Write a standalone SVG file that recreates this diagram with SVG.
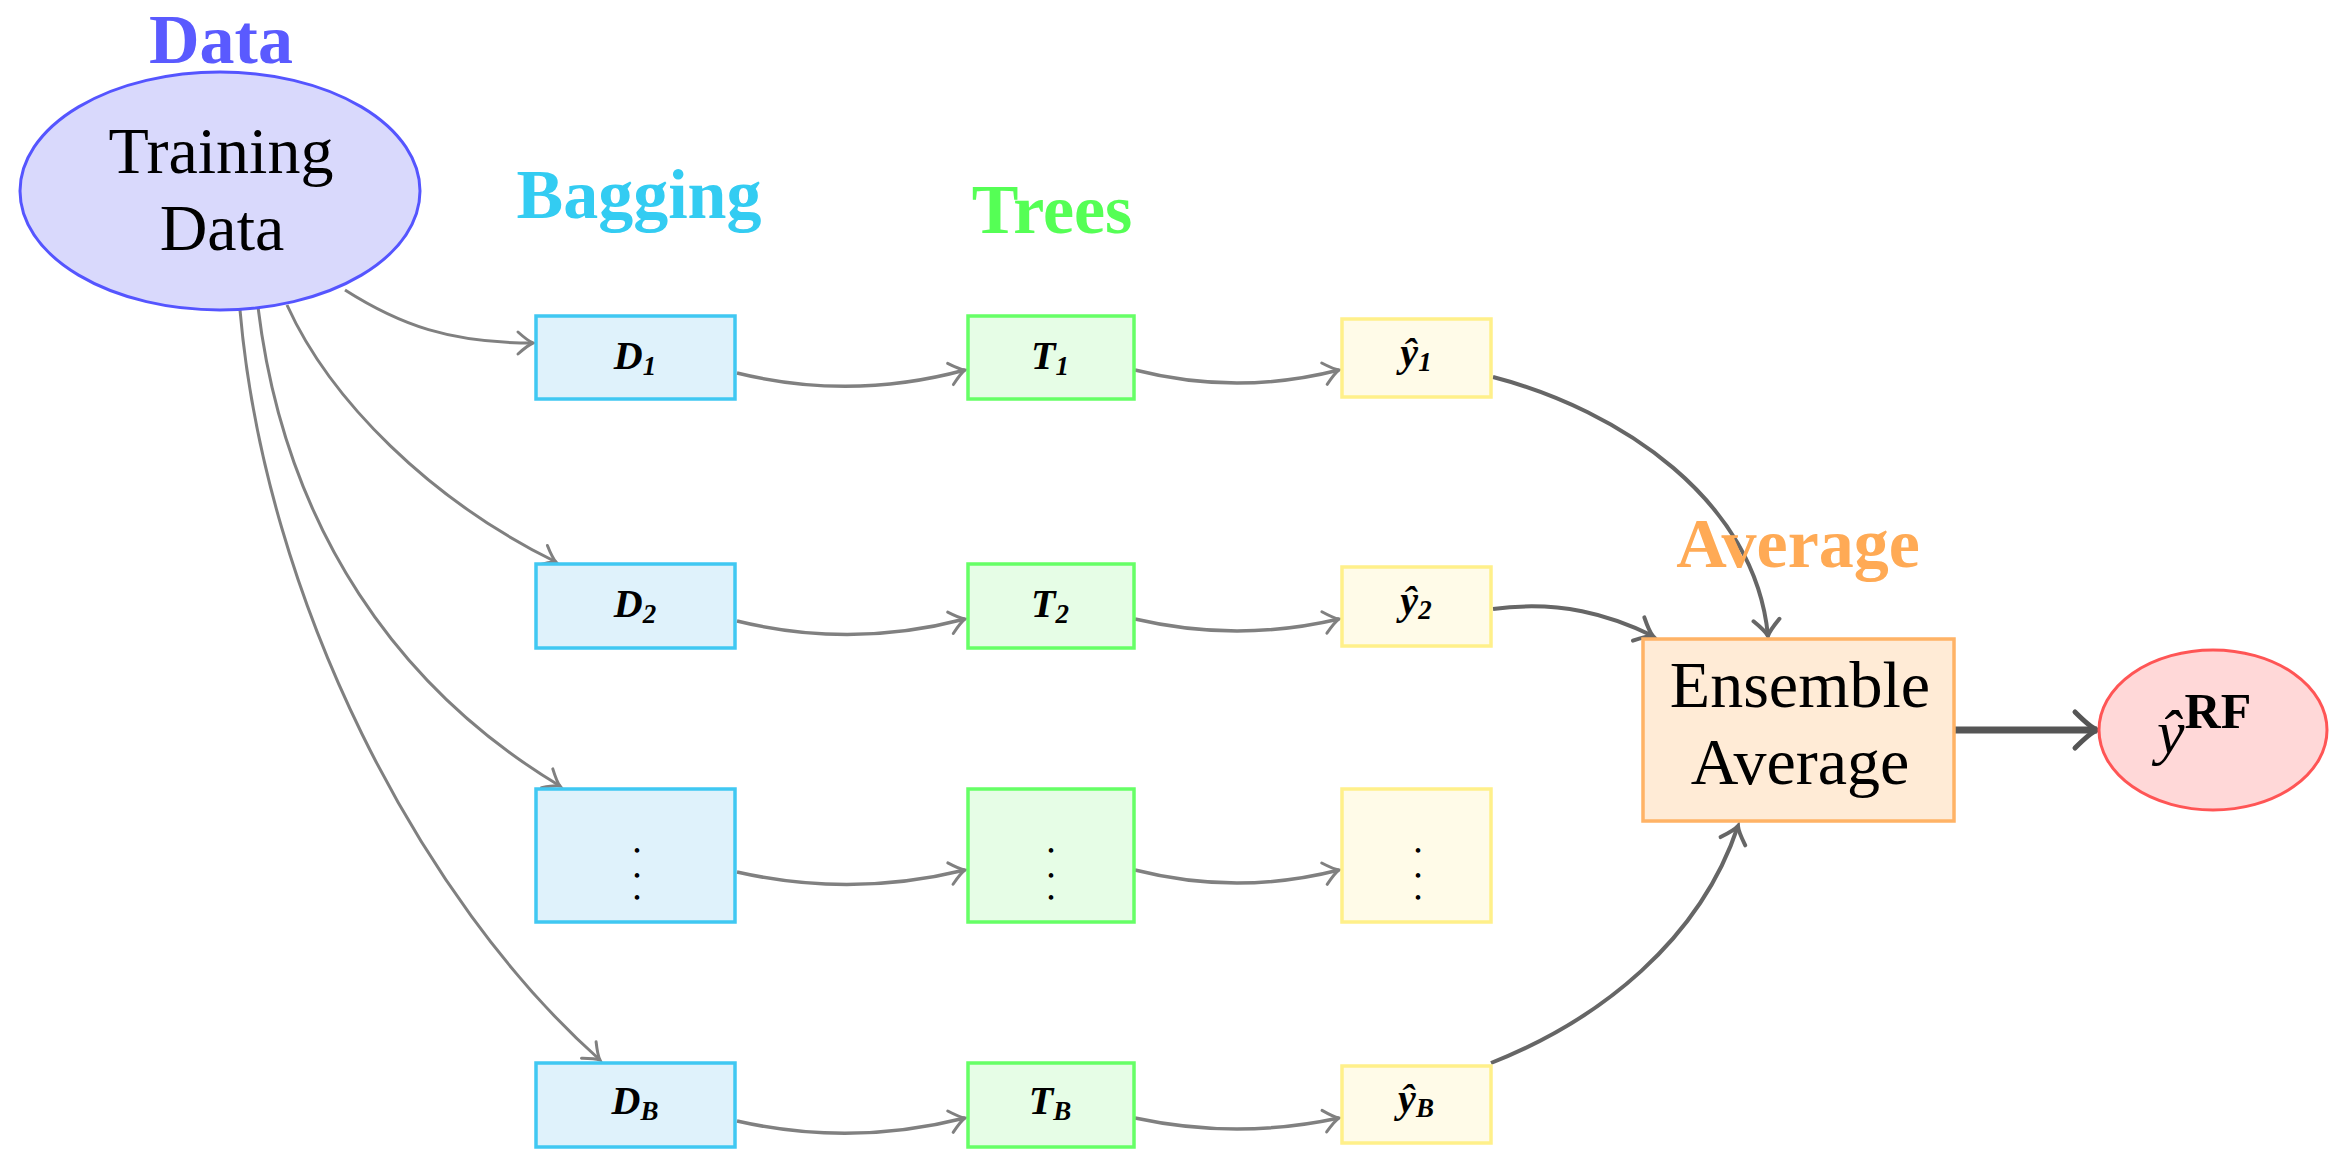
<svg xmlns="http://www.w3.org/2000/svg" width="2349" height="1174" viewBox="0 0 2349 1174">
<defs>
<style>
text{font-family:"Liberation Serif","Times New Roman",serif;fill:#000}
.title{font-size:70px;font-weight:bold;text-anchor:middle}
.body{font-size:66px;text-anchor:middle}
.lbl{font-size:40px;font-weight:bold;font-style:italic;text-anchor:middle}
.sub{font-size:27px}
.dots{font-size:18px;font-weight:bold;text-anchor:middle;stroke:#000;stroke-width:1.6}
.bag{fill:#dff2fb;stroke:#40c8f2;stroke-width:3.5}
.tree{fill:#e6fde6;stroke:#66ff66;stroke-width:3.5}
.pred{fill:#fffbe8;stroke:#fff08a;stroke-width:3.5}
.e1{fill:none;stroke:#808080;stroke-width:3;marker-end:url(#ah)}
.e2{fill:none;stroke:#808080;stroke-width:3.5;marker-end:url(#ah)}
.e3{fill:none;stroke:#666;stroke-width:4;marker-end:url(#ah2)}
.e4{fill:none;stroke:#555;stroke-width:7;marker-end:url(#ah3)}
</style>
<marker id="ah" markerUnits="userSpaceOnUse" viewBox="-20 -15 24 30" refX="0" refY="0" markerWidth="24" markerHeight="30" orient="auto" overflow="visible">
<path d="M-15,-11 Q-5,-2 0,0 Q-5,2 -15,11" fill="none" stroke="#808080" stroke-width="3" stroke-linecap="round"/>
</marker>
<marker id="ah2" markerUnits="userSpaceOnUse" viewBox="-20 -17 24 34" refX="0" refY="0" markerWidth="24" markerHeight="34" orient="auto" overflow="visible">
<path d="M-16,-13 Q-5,-2 0,0 Q-5,2 -16,13" fill="none" stroke="#666" stroke-width="4" stroke-linecap="round"/>
</marker>
<marker id="ah3" markerUnits="userSpaceOnUse" viewBox="-26 -22 30 44" refX="0" refY="0" markerWidth="30" markerHeight="44" orient="auto" overflow="visible">
<path d="M-22,-18 Q-7,-3 0,0 Q-7,3 -22,18" fill="none" stroke="#555" stroke-width="5" stroke-linecap="round"/>
</marker>
</defs>
<rect width="2349" height="1174" fill="#fff"/>

<g id="connectors">
<path class="e1" d="M345,290 C400,325 450,343 533,343"/>
<path class="e1" d="M287,305 C330,400 430,500 556,562"/>
<path class="e1" d="M258,307 C285,530 400,690 560,786"/>
<path class="e1" d="M240,310 C265,600 420,900 600,1060"/>

<path class="e2" d="M737,373 Q851,401 965,370"/>
<path class="e2" d="M1135,370 Q1237,396 1339,370"/>
<path class="e2" d="M737,621 Q851,649 965,619"/>
<path class="e2" d="M1135,619 Q1237,643 1339,619"/>
<path class="e2" d="M737,872 Q851,898 965,870"/>
<path class="e2" d="M1135,870 Q1237,896 1339,870"/>
<path class="e2" d="M737,1121 Q851,1147 965,1118"/>
<path class="e2" d="M1135,1118 Q1237,1140 1339,1118"/>

<path class="e3" d="M1493,377 C1620,410 1755,500 1768,636"/>
<path class="e3" d="M1493,609 C1560,600 1610,615 1653,636"/>
<path class="e3" d="M1491,1063 C1600,1020 1700,940 1738,826"/>

<path class="e4" d="M1955,730 L2097,730"/>
</g>

<g id="title-data"><text class="title" x="221" y="63" style="fill:#5a5aff">Data</text></g>
<g id="title-bagging"><text class="title" x="639" y="218" style="fill:#33ccf2">Bagging</text></g>
<g id="title-trees"><text class="title" x="1052" y="233" style="fill:#55ff55">Trees</text></g>
<g id="title-average"><text class="title" x="1798" y="567" style="fill:#ffaa55">Average</text></g>

<g id="training-data">
<ellipse cx="220" cy="191" rx="200" ry="119" fill="#d9d9fc" stroke="#5555ff" stroke-width="3"/>
<text class="body" x="221" y="173">Training</text>
<text class="body" x="222" y="250">Data</text>
</g>

<g id="D1"><rect class="bag" x="536" y="316" width="199" height="83"/><text class="lbl" x="635" y="369">D<tspan class="sub" dy="6">1</tspan></text></g>
<g id="D2"><rect class="bag" x="536" y="564" width="199" height="84"/><text class="lbl" x="635" y="617">D<tspan class="sub" dy="6">2</tspan></text></g>
<g id="D3"><rect class="bag" x="536" y="789" width="199" height="133"/><text class="dots"><tspan x="637" y="852">.</tspan><tspan x="637" y="877">.</tspan><tspan x="637" y="899">.</tspan></text></g>
<g id="DB"><rect class="bag" x="536" y="1063" width="199" height="84"/><text class="lbl" x="635" y="1114">D<tspan class="sub" dy="6">B</tspan></text></g>

<g id="T1"><rect class="tree" x="968" y="316" width="166" height="83"/><text class="lbl" x="1050" y="369">T<tspan class="sub" dy="6">1</tspan></text></g>
<g id="T2"><rect class="tree" x="968" y="564" width="166" height="84"/><text class="lbl" x="1050" y="617">T<tspan class="sub" dy="6">2</tspan></text></g>
<g id="T3"><rect class="tree" x="968" y="789" width="166" height="133"/><text class="dots"><tspan x="1051" y="852">.</tspan><tspan x="1051" y="877">.</tspan><tspan x="1051" y="899">.</tspan></text></g>
<g id="TB"><rect class="tree" x="968" y="1063" width="166" height="84"/><text class="lbl" x="1050" y="1114">T<tspan class="sub" dy="6">B</tspan></text></g>

<g id="Y1"><rect class="pred" x="1342" y="319" width="149" height="78"/><text class="lbl" x="1416" y="366">ŷ<tspan class="sub" dy="5">1</tspan></text></g>
<g id="Y2"><rect class="pred" x="1342" y="567" width="149" height="79"/><text class="lbl" x="1416" y="614">ŷ<tspan class="sub" dy="5">2</tspan></text></g>
<g id="Y3"><rect class="pred" x="1342" y="789" width="149" height="133"/><text class="dots"><tspan x="1418" y="852">.</tspan><tspan x="1418" y="877">.</tspan><tspan x="1418" y="899">.</tspan></text></g>
<g id="YB"><rect class="pred" x="1342" y="1066" width="149" height="77"/><text class="lbl" x="1416" y="1112">ŷ<tspan class="sub" dy="5">B</tspan></text></g>

<g id="ensemble">
<rect x="1643" y="639" width="311" height="182" fill="#ffebd6" stroke="#ffb366" stroke-width="3.5"/>
<text class="body" x="1800" y="707">Ensemble</text>
<text class="body" x="1800" y="784">Average</text>
</g>

<g id="yrf">
<ellipse cx="2213" cy="730" rx="114" ry="80" fill="#ffd8d8" stroke="#ff5555" stroke-width="3"/>
<text x="2157" y="753" style="font-size:62px"><tspan font-style="italic">ŷ</tspan><tspan font-weight="bold" style="font-size:50px" dy="-25">RF</tspan></text>
</g>
</svg>
